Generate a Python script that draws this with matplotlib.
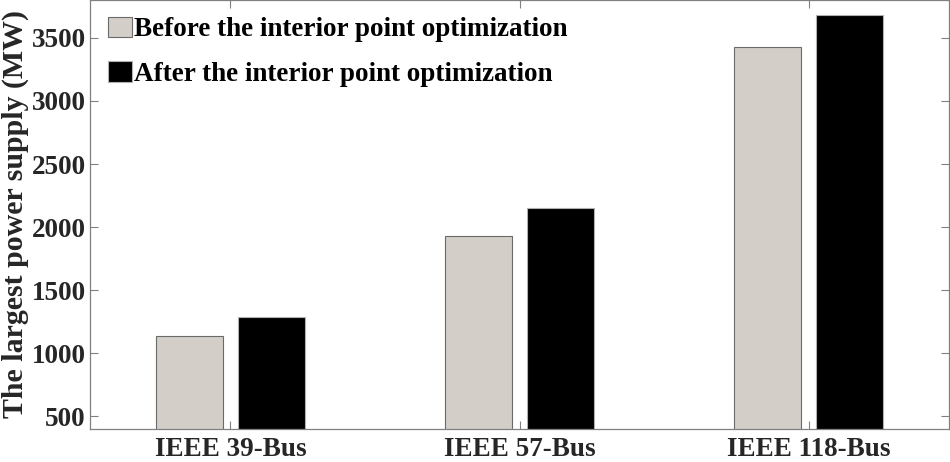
import matplotlib
matplotlib.use("Agg")
import matplotlib.pyplot as plt
import numpy as np

categories = ["IEEE 39-Bus", "IEEE 57-Bus", "IEEE 118-Bus"]
before = [1140, 1932, 3425]
after = [1290, 2155, 3680]
series_labels = ["Before the interior point optimization", "After the interior point optimization"]
yticks = [500, 1000, 1500, 2000, 2500, 3000, 3500]

plt.rcParams['font.family'] = ['Liberation Serif', 'DejaVu Serif']
plt.rcParams['font.weight'] = 'bold'

fig = plt.figure(figsize=(9.5, 4.62), dpi=100)
ax = fig.add_axes([90/950, 33/462, 859/950, 429/462])

x = np.arange(1, len(categories) + 1)
w = 0.232
off = 0.143
ax.bar(x - off, before, w, color="#d3cfc8", edgecolor="#6a6a6a", linewidth=0.8, label=series_labels[0], zorder=2)
ax.bar(x + off, after, w, color="#000000", edgecolor="#b0b0b0", linewidth=0.8, label=series_labels[1], zorder=2)

ax.set_xlim(0.514, 3.486)
ax.set_ylim(400, 3800)
ax.set_xticks(x)
ax.set_xticklabels(categories, fontsize=19.5, fontweight='bold', color="#262626")
ax.set_yticks(yticks)
ax.set_yticklabels([str(v) for v in yticks], fontsize=19.5, fontweight='bold', color="#262626")
ax.tick_params(direction='in', length=6, width=0.8, color="#808080", top=True, right=True, pad=3)
ax.tick_params(axis='x', pad=6)
for s in ax.spines.values():
    s.set_color("#808080")
    s.set_linewidth(0.9)

ax.set_ylabel("The largest power supply (MW)", fontsize=21.5, fontweight='bold', color="#262626", labelpad=2)

leg = ax.legend(loc='upper left', frameon=False, prop={'weight': 'bold', 'size': 19.5},
                handlelength=0.9, handleheight=0.8, handletextpad=0.08, labelspacing=0.69,
                bbox_to_anchor=(1/859, 1.0), borderaxespad=0.41, borderpad=0.2)
for t in leg.get_texts():
    t.set_color("#000000")

fig.savefig("out.png", dpi=100)
